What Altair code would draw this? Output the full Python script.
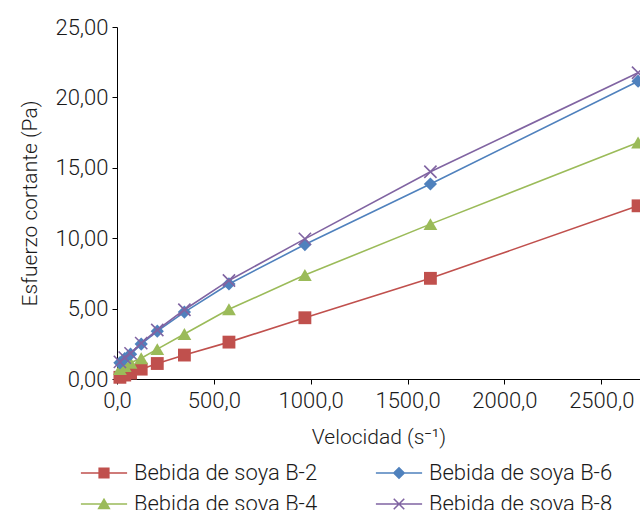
import altair as alt
import pandas as pd

# Shear rate (s^-1) shared by every sample
velocidad = [15, 40, 70, 125, 208, 348, 578, 970, 1618, 2690]

# Shear stress (Pa) per soy-drink sample
b2 = [0.12, 0.28, 0.42, 0.70, 1.10, 1.70, 2.62, 4.35, 7.15, 12.30]
b4 = [0.70, 0.92, 1.15, 1.48, 2.12, 3.20, 4.95, 7.38, 11.00, 16.80]
b6 = [1.15, 1.45, 1.76, 2.48, 3.40, 4.75, 6.75, 9.55, 13.85, 21.15]
b8 = [1.22, 1.52, 1.82, 2.55, 3.48, 4.92, 7.00, 9.95, 14.72, 21.75]

series_names = ["Bebida de soya B-2", "Bebida de soya B-4",
                "Bebida de soya B-6", "Bebida de soya B-8"]
series_values = [b2, b4, b6, b8]
colors = ["#C0504D", "#9BBB59", "#4F81BD", "#8064A2"]

x_ticks = [0, 500, 1000, 1500, 2000, 2500]
y_ticks = [0, 5, 10, 15, 20, 25]

rows = []
for name, vals in zip(series_names, series_values):
    for v, s in zip(velocidad, vals):
        rows.append({"serie": name, "velocidad": v, "esfuerzo": s})
df = pd.DataFrame(rows)

FONT = "Roboto"
WEIGHT = 300
TEXT = "#1a1a1a"

x_enc = alt.X(
    "velocidad:Q",
    scale=alt.Scale(domain=[0, 2700], nice=False, zero=True),
    axis=alt.Axis(
        title="Velocidad (s⁻¹)",
        values=x_ticks,
        labelExpr="replace(format(datum.value, '.1f'), '.', ',')",
        grid=False, tickSize=5, labelPadding=6, titlePadding=15,
        labelFlush=False,
    ),
)
y_enc = alt.Y(
    "esfuerzo:Q",
    scale=alt.Scale(domain=[0, 25], nice=False),
    axis=alt.Axis(
        title="Esfuerzo cortante (Pa)",
        values=y_ticks,
        labelExpr="replace(format(datum.value, '.2f'), '.', ',')",
        grid=False, tickSize=5, labelPadding=4, titlePadding=14,
        labelFlush=False,
    ),
)

base = alt.Chart(df)

# marker per series: square, triangle, diamond, x
marker_shapes = ["square", "triangle-up", "diamond", "M-1,-1L1,1M-1,1L1,-1"]
marker_sizes = [165, 190, 175, 150]
marker_filled = [True, True, True, False]

layers = []
for name, col, shp, sz, fl in zip(series_names, colors, marker_shapes,
                                  marker_sizes, marker_filled):
    sub = base.transform_filter(alt.datum.serie == name)
    layers.append(
        sub.mark_line(color=col, strokeWidth=1.6).encode(x=x_enc, y=y_enc)
    )
    if fl:
        pt = sub.mark_point(shape=shp, size=sz, filled=True, color=col,
                            opacity=1, strokeWidth=0)
    else:
        pt = sub.mark_point(shape=shp, size=sz, filled=False, color=col,
                            opacity=1, strokeWidth=1.6)
    layers.append(pt.encode(x=x_enc, y=y_enc))

# legend symbols: a short line segment with the marker in the middle
L, t = 3.3, 0.11
line_seg = f"M-{L},-{t}L{L},-{t}L{L},{t}L-{L},{t}Z"
d = 0.078
x_cross = (
    f"M{-0.75 + d},{-0.75 - d}L{0.75 + d},{0.75 - d}L{0.75 - d},{0.75 + d}L{-0.75 - d},{-0.75 + d}Z"
    f"M{0.75 - d},{-0.75 - d}L{0.75 + d},{-0.75 + d}L{-0.75 + d},{0.75 + d}L{-0.75 - d},{0.75 - d}Z"
)
legend_paths = {
    "Bebida de soya B-2": line_seg + "M-0.8,-0.8L0.8,-0.8L0.8,0.8L-0.8,0.8Z",
    "Bebida de soya B-4": line_seg + "M0,-0.9L0.95,0.75L-0.95,0.75Z",
    "Bebida de soya B-6": line_seg + "M0,-0.9L0.9,0L0,0.9L-0.9,0Z",
    "Bebida de soya B-8": line_seg + x_cross,
}

legend = alt.Legend(
    title=None, orient="none", legendX=-24, legendY=435,
    direction="vertical", columns=2, columnPadding=57, rowPadding=9,
    symbolSize=196, symbolStrokeWidth=0, symbolOpacity=1,
    labelFontSize=22, labelFont=FONT, labelFontWeight=WEIGHT,
    labelColor=TEXT, labelOffset=19,
    padding=0, labelLimit=400,
)
legend_layer = base.mark_point(filled=True, opacity=0).encode(
    x=x_enc, y=y_enc,
    color=alt.Color("serie:N",
                    scale=alt.Scale(domain=series_names, range=colors),
                    legend=legend),
    shape=alt.Shape("serie:N",
                    scale=alt.Scale(domain=series_names,
                                    range=[legend_paths[s] for s in series_names]),
                    legend=legend),
)
layers.append(legend_layer)

chart = (
    alt.layer(*layers)
    .properties(
        width=523, height=352,
        autosize=alt.AutoSizeParams(type="none"),
        padding={"left": 117, "top": 27, "right": 0, "bottom": 131},
    )
    .configure_view(stroke=None)
    .configure_axis(
        domainColor="black", tickColor="black", domainWidth=1, tickWidth=1,
        labelFont=FONT, titleFont=FONT, labelFontSize=22, titleFontSize=21,
        labelFontWeight=WEIGHT, titleFontWeight=WEIGHT,
        labelColor=TEXT, titleColor=TEXT,
    )
)

chart.save("out.html", embed_options={"renderer": "svg", "actions": False})
